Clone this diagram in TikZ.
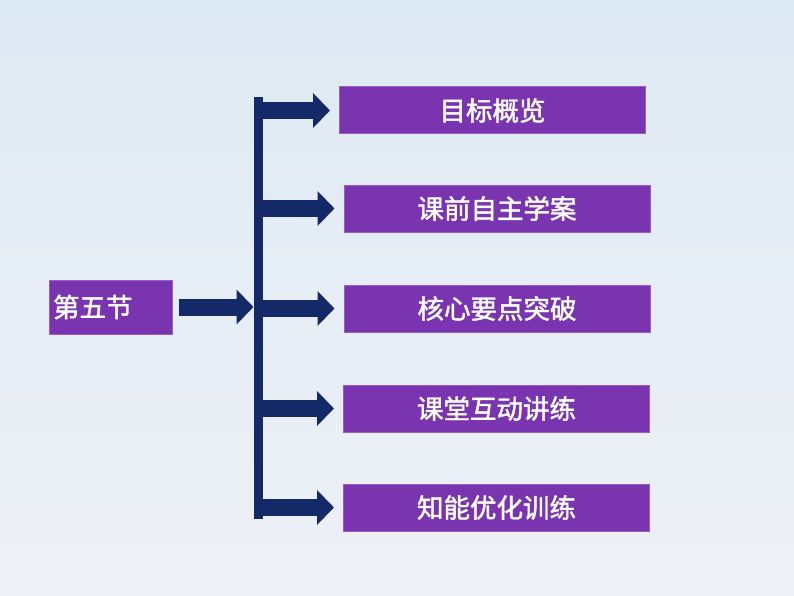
\documentclass[tikz,border=0pt]{standalone}
\usepackage{fontspec}
\newfontfamily\cjk[FakeBold=1.6]{Noto Sans CJK SC}
\usetikzlibrary{arrows.meta}
\definecolor{boxpurple}{RGB}{122,52,176}
\definecolor{boxedge}{RGB}{150,95,195}
\definecolor{navy}{RGB}{20,42,104}
\definecolor{bgtop}{RGB}{222,234,244}
\definecolor{bgbot}{RGB}{238,240,246}

\begin{document}
\begin{tikzpicture}[
  x=1pt, y=-1pt,
  box/.style={draw=boxedge, line width=1pt, fill=boxpurple, text=white,
              font=\cjk\fontsize{26.5}{26.5}\selectfont, minimum width=306pt,
              minimum height=47pt, inner sep=0pt},
  secbox/.style={box, minimum width=123pt, minimum height=54pt,
                 text width=115pt, align=left},
  blk/.style={navy, line width=17pt,
              -{Triangle[length=17pt, width=34pt]}},
  bar/.style={navy, line width=9pt}]
% background
\fill[top color=bgtop, bottom color=bgbot] (0,0) rectangle (794,596);
\useasboundingbox (0,0) rectangle (794,596);

\node[secbox] (sec) at (110.5,307) {第五节};

\node[box] (b1) at (492.5,110.5) {目标概览};
\node[box] (b2) at (497,208.5)   {课前自主学案};
\node[box] (b3) at (497,308.5)   {核心要点突破};
\node[box] (b4) at (496.5,408.5) {课堂互动讲练};
\node[box] (b5) at (496.5,507.5) {知能优化训练};

\coordinate (bartop) at (258.5,97);
\coordinate (barbot) at (258.5,519);
\draw[bar] (bartop) -- (barbot);

\draw[blk, shorten <=6pt, shorten >=5pt] (sec.east) -- (sec.east -| bartop);
\foreach \b in {b1,b2,b3,b4,b5}
  \draw[blk, shorten <=4.5pt, shorten >=9pt] (bartop |- \b.west) -- (\b.west);
\end{tikzpicture}
\end{document}
